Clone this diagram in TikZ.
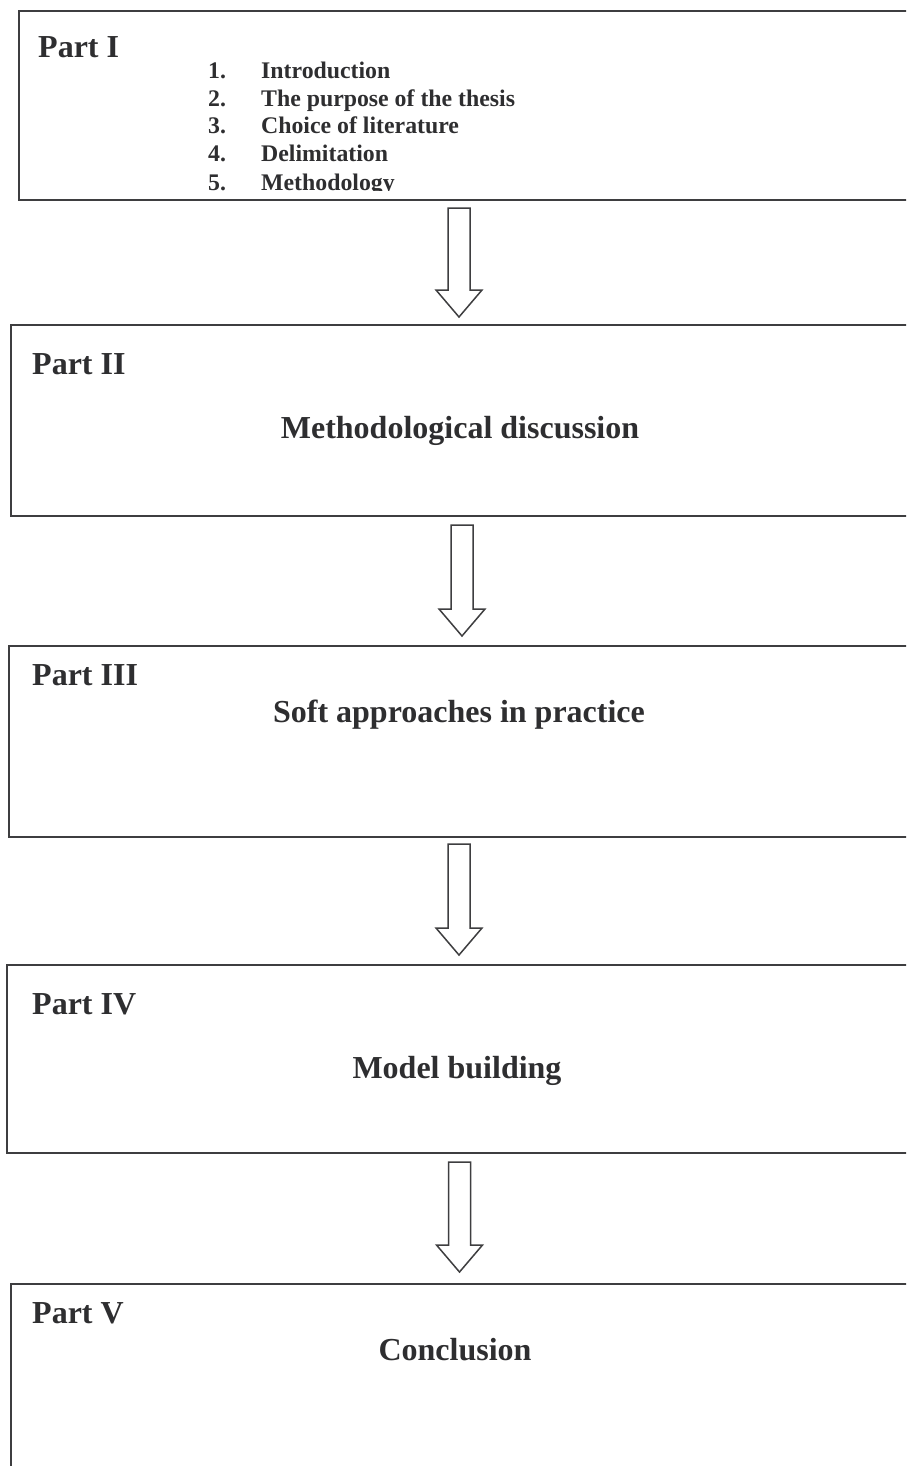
\documentclass[tikz,border=0pt]{standalone}
\usepackage{fontspec}
\setmainfont{Liberation Serif}
\usetikzlibrary{calc}

\definecolor{ink}{HTML}{2E2E30}
\definecolor{rule}{HTML}{3E3E40}

\tikzset{
  partbox/.style={draw=rule, line width=2pt, rectangle, inner sep=0pt, anchor=north west},
  parttitle/.style={font=\bfseries\fontsize{32}{38}\selectfont, text=ink, inner sep=0pt, anchor=base west},
  parttopic/.style={font=\bfseries\fontsize{32}{38}\selectfont, text=ink, inner sep=0pt, anchor=base},
  listitem/.style={font=\bfseries\fontsize{23.8}{28}\selectfont, text=ink, inner sep=0pt, anchor=base west},
  arrowline/.style={draw=rule, line width=1.5pt, fill=white, line join=miter},
}

% hollow block arrow from a tail coordinate down to a tip coordinate
\newcommand{\blockarrow}[2]{%
  \draw[arrowline] ($(#1)+(-11,0)$) -- ($(#2)+(-11,-27)$) -- ($(#2)+(-23,-27)$)
    -- (#2) -- ($(#2)+(23,-27)$) -- ($(#2)+(11,-27)$) -- ($(#1)+(11,0)$) -- cycle;}

\begin{document}
\begin{tikzpicture}[x=1pt, y=-1pt]
  \useasboundingbox (0,0) rectangle (906,1466);
  \clip (0,0) rectangle (906,1466);
  \fill[white] (0,0) rectangle (906,1466);

  % the five parts
  \node[partbox, minimum width=912pt, minimum height=189pt] (p1) at (18,10) {};
  \node[partbox, minimum width=920pt, minimum height=191pt] (p2) at (10,324) {};
  \node[partbox, minimum width=922pt, minimum height=191pt] (p3) at (8,645) {};
  \node[partbox, minimum width=924pt, minimum height=188pt] (p4) at (6,964) {};
  \node[partbox, minimum width=920pt, minimum height=220pt] (p5) at (10,1283) {};

  % Part I with its list of chapters
  \node[parttitle] (t1) at (38,58) {Part I};
  \begin{scope}
    \clip (0,0) rectangle (906,191);
    \node[listitem] (i1) at (208,79)  {\makebox[53pt][l]{1.}Introduction};
    \node[listitem] (i2) at (208,107) {\makebox[53pt][l]{2.}The purpose of the thesis};
    \node[listitem] (i3) at (208,134) {\makebox[53pt][l]{3.}Choice of literature};
    \node[listitem] (i4) at (208,162) {\makebox[53pt][l]{4.}Delimitation};
    \node[listitem] (i5) at (208,190) {\makebox[53pt][l]{5.}Methodology};
  \end{scope}

  % Part II
  \node[parttitle] (t2) at (32,374) {Part II};
  \node[parttopic] (c2) at (460,438) {Methodological discussion};

  % Part III
  \node[parttitle] (t3) at (32,685) {Part III};
  \node[parttopic] (c3) at (459,722) {Soft approaches in practice};

  % Part IV
  \node[parttitle] (t4) at (32,1014) {Part IV};
  \node[parttopic] (c4) at (457,1078) {Model building};

  % Part V
  \node[parttitle] (t5) at (32,1323) {Part V};
  \node[parttopic] (c5) at (455,1360) {Conclusion};

  % arrow tails and tips
  \coordinate (a1t) at (459,208);  \coordinate (a1h) at (459,317);
  \coordinate (a2t) at (462,525);  \coordinate (a2h) at (462,636);
  \coordinate (a3t) at (459,844);  \coordinate (a3h) at (459,955);
  \coordinate (a4t) at (459.5,1162); \coordinate (a4h) at (459.5,1272);

  \blockarrow{a1t}{a1h}
  \blockarrow{a2t}{a2h}
  \blockarrow{a3t}{a3h}
  \blockarrow{a4t}{a4h}
\end{tikzpicture}
\end{document}
